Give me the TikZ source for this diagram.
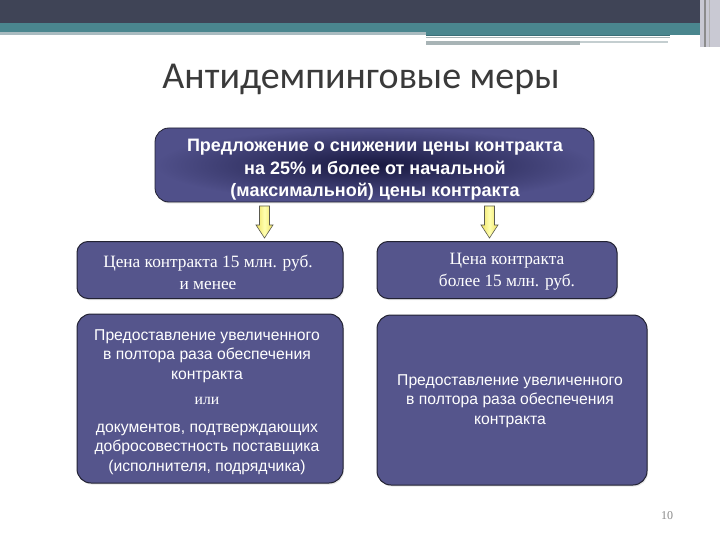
\documentclass[tikz,border=0pt]{standalone}
\usepackage{fontspec}
\setmainfont{Liberation Serif}
\setsansfont{Liberation Sans}
\newfontfamily\titlefont{Carlito}
\usetikzlibrary{shadows}
\definecolor{darkbar}{HTML}{3F4456}
\definecolor{tealbar}{HTML}{4A868E}
\definecolor{tealdark}{HTML}{3C7078}
\definecolor{lightline}{HTML}{A9BBC0}
\definecolor{greyline}{HTML}{A8B4B6}
\definecolor{greylight}{HTML}{C4CED0}
\definecolor{rightgrey}{HTML}{C9C9D3}
\definecolor{titlegrey}{HTML}{3A3A3A}
\definecolor{navyout}{HTML}{50508A}
\definecolor{navyin}{HTML}{181840}
\definecolor{boxblue}{HTML}{55558C}
\definecolor{boxedge}{HTML}{222233}
\definecolor{arrowmid}{HTML}{FFFFB0}
\definecolor{arrowside}{HTML}{EEE060}
\definecolor{arrowedge}{HTML}{5A5A50}
\definecolor{pagegrey}{HTML}{8A8A8A}
\tikzset{
  topbox/.style={draw=boxedge, line width=0.8pt, rounded corners=14pt, shading=radial,
    inner color=navyin, outer color=navyout, inner sep=0pt,
    drop shadow={opacity=0.25, shadow xshift=1pt, shadow yshift=-1.5pt}},
  bluebox/.style={draw=boxedge, line width=1pt, fill=boxblue, inner sep=0pt,
    drop shadow={opacity=0.2, shadow xshift=1pt, shadow yshift=-1.5pt}},
  toptext/.style={text=white, align=center, font=\sffamily\bfseries\fontsize{18}{22.5}\selectfont},
  seriftext/.style={text=white, align=center, font=\rmfamily\fontsize{17.3}{22}\selectfont},
  sanstext/.style={text=white, align=center, font=\sffamily\fontsize{15.7}{19.5}\selectfont},
  yarrow/.style={draw=arrowedge, line width=0.6pt, left color=arrowside, right color=arrowside, middle color=arrowmid},
}
\begin{document}
\begin{tikzpicture}[x=1pt,y=-1pt]
\useasboundingbox (0,0) rectangle (720,540);
\fill[white] (0,0) rectangle (720,540);
% decorative header bars
\fill[darkbar] (0,0) rectangle (700,23);
\fill[tealbar] (0,23) rectangle (700,32);
\fill[lightline] (0,32) rectangle (426,35);
\fill[tealbar] (426,32) rectangle (700,35);
\fill[tealdark] (426,35) rectangle (670,36);
\fill[greyline] (426,37) rectangle (670,38.5);
\fill[greyline] (426,41.5) rectangle (580,45.5);
\fill[greylight] (580,41.5) rectangle (668,43.5);
\fill[rightgrey] (700,0) rectangle (720,47);
\fill[black!45] (703.5,0) rectangle (705.5,47);
\fill[black!30] (708.5,0) rectangle (709.5,47);
% title
\node[text=titlegrey, font=\titlefont\fontsize{38}{44}\selectfont, anchor=base] (title) at (361,89) {Антидемпинговые меры};
% top box
\node[topbox, minimum width=439pt, minimum height=74pt] (top) at (374.5,165) {};
\node[toptext] (toptxt) at (375,170) {Предложение о снижении цены контракта\\на 25\% и более от начальной\\(максимальной) цены контракта};
% level 1 boxes
\node[bluebox, rounded corners=11pt, minimum width=266pt, minimum height=57pt] (l1) at (210,270) {};
\node[seriftext] (l1txt) at (208,272) {Цена контракта 15 млн. руб.\\и менее};
\node[bluebox, rounded corners=11pt, minimum width=240pt, minimum height=57pt] (r1) at (497,270) {};
\node[seriftext] (r1txt) at (507,272) {Цена контракта\\более 15 млн. руб.};
% level 2 boxes
\node[bluebox, rounded corners=14pt, minimum width=266pt, minimum height=169pt] (l2) at (210,398.5) {};
\node[sanstext] (l2txt) at (207,402) {Предоставление увеличенного\\в полтора раза обеспечения\\контракта\\[5.5pt]
  {\rmfamily или}\\[8.5pt]
  документов, подтверждающих\\добросовестность поставщика\\(исполнителя, подрядчика)};
\node[bluebox, rounded corners=14pt, minimum width=270pt, minimum height=170pt] (r2) at (512,400) {};
\node[sanstext] (r2txt) at (510,401) {Предоставление увеличенного\\в полтора раза обеспечения\\контракта};
% yellow block arrows
\coordinate (a1) at (264.5,206);
\coordinate (a2) at (489.5,206);
\foreach \c in {a1,a2}{
  \draw[yarrow] ([shift={(-5,0)}]\c) -- ([shift={(5,0)}]\c) -- ([shift={(5,19)}]\c) -- ([shift={(8.5,19)}]\c)
    -- ([shift={(0,32)}]\c) -- ([shift={(-8.5,19)}]\c) -- ([shift={(-5,19)}]\c) -- cycle;
}
% page number
\node[text=pagegrey, font=\rmfamily\fontsize{12}{14}\selectfont] (page) at (667,516) {10};
\end{tikzpicture}
\end{document}
